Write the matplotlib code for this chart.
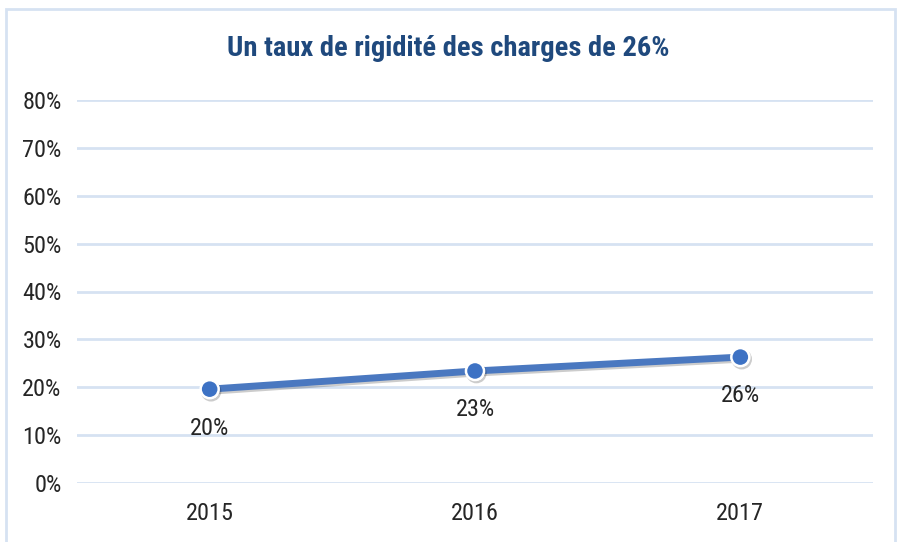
import matplotlib
matplotlib.use("Agg")
import matplotlib.pyplot as plt
import matplotlib.patches as mpatches
import matplotlib.patheffects as pe
from matplotlib import font_manager
from matplotlib.ticker import PercentFormatter

years = ["2015", "2016", "2017"]
taux = [19.6, 23.4, 26.3]
etiquettes = ["20%", "23%", "26%"]
y_ticks = [0, 10, 20, 30, 40, 50, 60, 70, 80]

# police étroite si dispo
noms = {f.name for f in font_manager.fontManager.ttflist}
candidats = ['Liberation Sans Narrow', 'Arial Narrow', 'Roboto Condensed', 'PT Sans Narrow']
etroite = [n for n in candidats if n in noms]
plt.rcParams['font.family'] = etroite[:1] + ['DejaVu Sans']

fig = plt.figure(figsize=(8.97, 5.42), dpi=100)
ax = fig.add_axes([77 / 897, 1 - 483 / 542, 796 / 897, 383 / 542])

# cadre du graphique
fig.patches.append(mpatches.Rectangle((6 / 897, -0.05), 889 / 897, 1.05 - 9 / 542,
                                      transform=fig.transFigure, fill=False,
                                      edgecolor='#d6e2f2', linewidth=2))

x = list(range(len(years)))
ax.plot(x, taux, color='#4a78c0', linewidth=5, marker='o', markersize=13,
        markerfacecolor='#3d72c4', markeredgecolor='white', markeredgewidth=1.8,
        solid_capstyle='round', zorder=3,
        path_effects=[pe.SimpleLineShadow(offset=(1, -1.5), alpha=0.2), pe.Normal()])

for xi, v, lab in zip(x, taux, etiquettes):
    ax.annotate(lab, (xi, v), xytext=(0, -28), textcoords='offset points',
                ha='center', va='center', fontsize=17.5, color='#262626')

ax.set_xlim(-0.5, 2.5)
ax.set_ylim(0, 80)
ax.set_yticks(y_ticks)
ax.yaxis.set_major_formatter(PercentFormatter(decimals=0))
ax.set_xticks(x)
ax.set_xticklabels(years)
ax.grid(axis='y', color='#d6e2f2', linewidth=2)
ax.set_axisbelow(True)
for s in ax.spines.values():
    s.set_visible(False)
ax.tick_params(length=0, labelsize=17.5, colors='#262626')
ax.tick_params(axis='y', pad=11)
ax.tick_params(axis='x', pad=14)

fig.text(0.5, 1 - 48 / 542, "Un taux de rigidité des charges de 26%", ha='center', va='center',
         fontsize=20.5, fontweight='bold', color='#1f497d')

fig.savefig("out.png", dpi=100)
